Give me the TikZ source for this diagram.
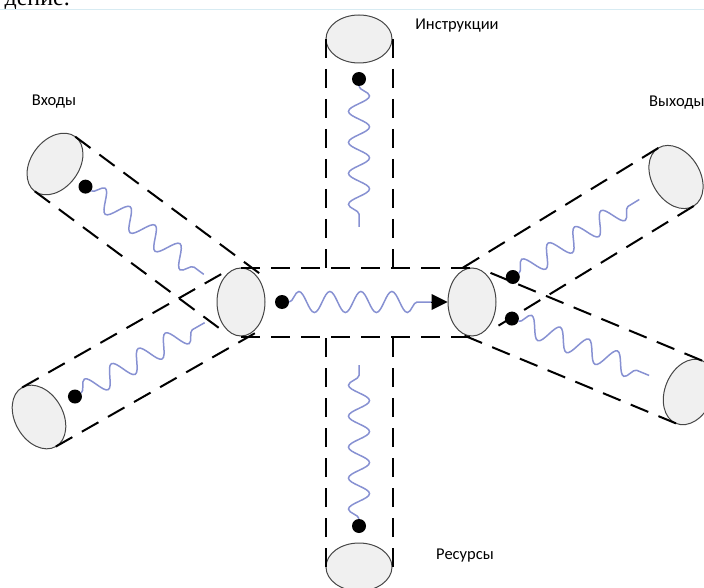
\documentclass[tikz,border=0pt]{standalone}
\usepackage{fontspec}
\setmainfont{Carlito}
\newfontfamily\serifru{Liberation Serif}
\usetikzlibrary{shapes.geometric,calc,decorations.pathmorphing,arrows.meta}
\definecolor{wavecol}{RGB}{135,145,210}
\definecolor{capfill}{RGB}{240,240,240}
\definecolor{capline}{RGB}{70,70,70}
\definecolor{rulecol}{RGB}{215,235,242}
\begin{document}
\begin{tikzpicture}[x=1pt,y=-1pt,
  endcap/.style={ellipse,draw=capline,fill=capfill,line width=1pt,inner sep=0pt,minimum width=48pt,minimum height=68pt},
  vendcap/.style={endcap,minimum width=66pt,minimum height=48pt},
  tubeline/.style={line width=2pt,dash pattern=on 19pt off 11pt},
  wave/.style={draw=wavecol,line width=1.5pt,decorate,decoration={snake,amplitude=10.5pt,segment length=31pt}},
  blob/.style={circle,fill=black,inner sep=0pt,minimum size=14pt},
  lbl/.style={font=\fontsize{16.5}{20}\selectfont,inner sep=0pt}
]
\useasboundingbox (0,0) rectangle (704,588);
\clip (0,0) rectangle (704,588);

% header fragment (cut off at the top edge, as in the reference)
\node[anchor=base east,inner sep=0pt,font=\serifru\fontsize{24}{28}\selectfont] (hdr) at (70,6) {дение.};
\draw[rulecol,line width=0.8pt] (0,9.5) -- (704,9.5);

% end caps
\node[endcap] (cL) at (241,302) {};
\node[endcap] (cR) at (472,302) {};
\node[vendcap] (cT) at (359,39) {};
\node[vendcap] (cB) at (359,567) {};
\node[endcap,rotate=-36.6] (eIn) at (55,164) {};
\node[endcap,rotate=29.7] (eIn2) at (39,417) {};
\node[endcap,rotate=31.5] (eOut1) at (676,177) {};
\node[endcap,rotate=-22.5] (eOut2) at (689,392) {};

% central tube
\draw[tubeline] (cL.north) -- (cR.north);
\draw[tubeline] (cL.south) -- (cR.south);
% vertical tubes
\draw[tubeline] (cT.west) -- (cT.west |- cL.north);
\draw[tubeline] (cT.east) -- (cT.east |- cL.north);
\draw[tubeline] (cB.west) -- (cB.west |- cL.south);
\draw[tubeline] (cB.east) -- (cB.east |- cL.south);
% side tubes
\foreach \o/\i in {eIn/cL,eIn2/cL,eOut1/cR,eOut2/cR}{
  \draw[tubeline] ($(\o.center)!34pt!90:(\i.center)$) -- ($(\i.center)!34pt!-90:(\o.center)$);
  \draw[tubeline] ($(\o.center)!34pt!-90:(\i.center)$) -- ($(\i.center)!34pt!90:(\o.center)$);
}

% dots and waves
\node[blob] (d0) at (282,302) {};
\coordinate (w0) at (432,302);
\draw[wave] (d0) -- (w0);
\draw[line width=0pt,-{Triangle[length=16pt,width=16pt]}] (w0) -- (cR.west);

\node[blob] (dT) at (359,79) {};
\coordinate (wT) at (359,227);
\draw[wave] (dT) -- (wT);

\node[blob] (dB) at (359,526) {};
\coordinate (wB) at (359,365);
\draw[wave] (dB) -- (wB);

\node[blob] (d1) at ($(eIn.center)!0.164!(cL.center)$) {};
\coordinate (w1) at ($(eIn.center)!0.8!(cL.center)$);
\draw[wave] (d1) -- (w1);

\node[blob] (d2) at ($(eIn2.center)!0.178!(cL.center)$) {};
\coordinate (w2) at ($(eIn2.center)!0.82!(cL.center)$);
\draw[wave] (d2) -- (w2);

\node[blob] (d3) at ($(cR.center)!0.2!(eOut1.center)$) {};
\coordinate (w3) at ($(cR.center)!0.82!(eOut1.center)$);
\draw[wave] (d3) -- (w3);

\node[blob] (d4) at ($(cR.center)!0.184!(eOut2.center)$) {};
\coordinate (w4) at ($(cR.center)!0.816!(eOut2.center)$);
\draw[wave] (d4) -- (w4);

% labels
\node[lbl] (lIn) at (54,102) {Входы};
\node[lbl] (lInstr) at (457,26) {Инструкции};
\node[lbl,anchor=west] (lOut) at (649,103) {Выходы};
\node[lbl] (lRes) at (465,556) {Ресурсы};
\end{tikzpicture}
\end{document}
